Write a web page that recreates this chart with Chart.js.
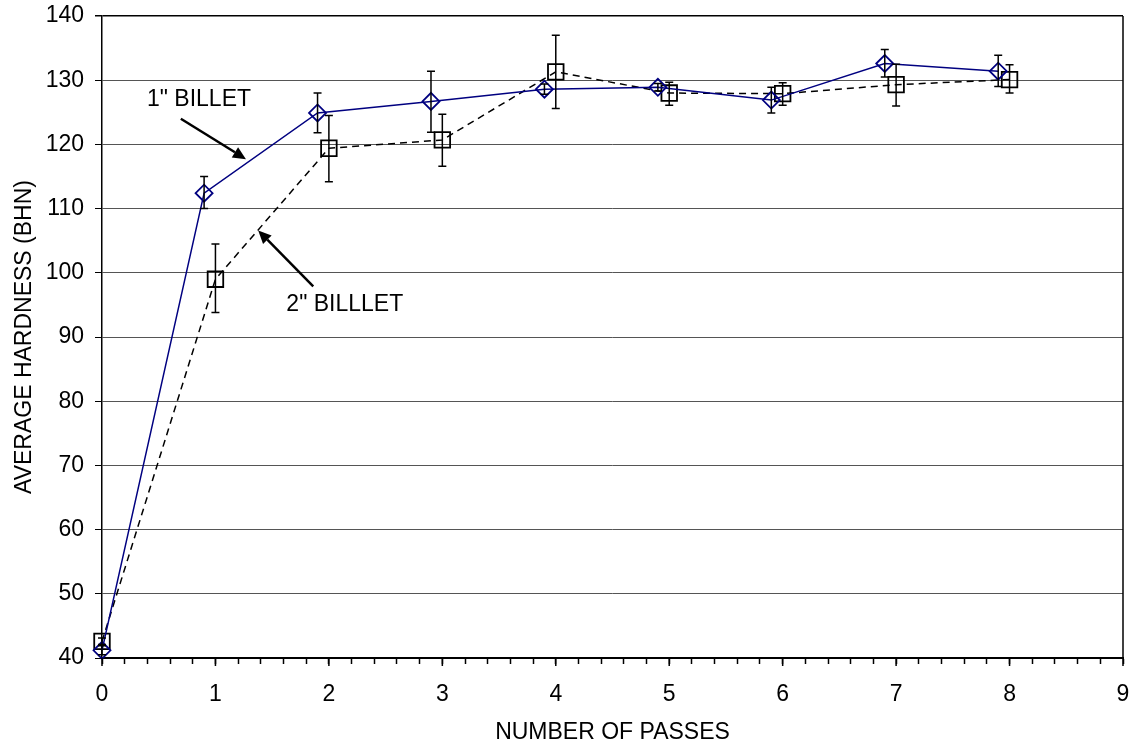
<!DOCTYPE html>
<html>
<head>
<meta charset="utf-8">
<script src="https://cdn.jsdelivr.net/npm/chart.js@4.4.1/dist/chart.umd.min.js"></script>
<style>
  html, body { margin: 0; padding: 0; background: #fff; }
  #box { width: 1133px; height: 744px; }
</style>
</head>
<body>
<div id="box"><canvas id="chart"></canvas></div>
<script>
// Average hardness vs. number of passes for two billet sizes, with error bars.

// 1" billet (plotted slightly left of the whole pass number)
const passes1 = [0, 0.9, 1.9, 2.9, 3.9, 4.9, 5.9, 6.9, 7.9];
const hard1   = [41.2, 112.4, 124.9, 126.7, 128.6, 128.9, 126.9, 132.6, 131.4];
const hard1Hi = [41.9, 115.0, 128.0, 131.4, 129.4, 129.5, 128.9, 134.8, 133.9];
const hard1Lo = [40.5, 110.0, 121.8, 121.9, 127.8, 128.3, 124.9, 130.5, 129.0];

// 2" billet
const passes2 = [0, 1, 2, 3, 4, 5, 6, 7, 8];
const hard2   = [42.6, 99.0, 119.4, 120.7, 131.3, 128.0, 127.9, 129.3, 130.1];
const hard2Hi = [43.1, 104.5, 124.5, 124.7, 137.0, 129.7, 129.6, 132.5, 132.4];
const hard2Lo = [42.1, 93.8, 114.2, 116.6, 125.6, 126.1, 126.1, 126.0, 128.0];

const xTickLabels = ['0', '1', '2', '3', '4', '5', '6', '7', '8', '9'];
const yTickLabels = ['40', '50', '60', '70', '80', '90', '100', '110', '120', '130', '140'];

// callout labels and their arrows, in data units
const notes = [
  { text: '1" BILLET', x: 0.855, y: 126.9 },
  { text: '2" BILLLET', x: 2.14, y: 95.0 }
];
const arrows = [
  { from: [0.695, 124.0], to: [1.269, 117.7] },
  { from: [1.862, 97.9], to: [1.377, 106.6] }
];

const FONT = { family: '"Liberation Sans", Arial, sans-serif', size: 23 };

const errorBars = {
  id: 'errorBars',
  afterDatasetsDraw(chart) {
    const { ctx, scales: { x, y } } = chart;
    ctx.save();
    ctx.strokeStyle = '#000';
    ctx.lineWidth = 1.5;
    [[passes1, hard1Lo, hard1Hi], [passes2, hard2Lo, hard2Hi]].forEach(([xs, lo, hi]) => {
      xs.forEach((v, i) => {
        const px = x.getPixelForValue(v);
        const top = y.getPixelForValue(hi[i]);
        const bot = y.getPixelForValue(lo[i]);
        ctx.beginPath();
        ctx.moveTo(px, top); ctx.lineTo(px, bot);
        ctx.moveTo(px - 4, top); ctx.lineTo(px + 4, top);
        ctx.moveTo(px - 4, bot); ctx.lineTo(px + 4, bot);
        ctx.stroke();
      });
    });
    ctx.restore();
  }
};

const callouts = {
  id: 'callouts',
  afterDraw(chart) {
    const { ctx, chartArea: a, scales: { x, y } } = chart;
    ctx.save();
    // right-hand frame line
    ctx.strokeStyle = '#000';
    ctx.lineWidth = 1.5;
    ctx.beginPath();
    ctx.moveTo(a.right, a.top); ctx.lineTo(a.right, a.bottom);
    ctx.stroke();

    // longer marks at the whole-number passes
    ctx.beginPath();
    xTickLabels.forEach((_, k) => {
      const px = x.getPixelForValue(k);
      ctx.moveTo(px, a.bottom); ctx.lineTo(px, a.bottom + 8);
    });
    ctx.stroke();

    ctx.fillStyle = '#000';
    ctx.font = FONT.size + 'px ' + FONT.family;
    ctx.textAlign = 'center';
    ctx.textBaseline = 'middle';
    notes.forEach(n => ctx.fillText(n.text, x.getPixelForValue(n.x), y.getPixelForValue(n.y)));

    ctx.lineWidth = 2.5;
    arrows.forEach(ar => {
      const x0 = x.getPixelForValue(ar.from[0]), y0 = y.getPixelForValue(ar.from[1]);
      const x1 = x.getPixelForValue(ar.to[0]), y1 = y.getPixelForValue(ar.to[1]);
      const ang = Math.atan2(y1 - y0, x1 - x0);
      const head = 13, half = 6;
      const bx = x1 - head * Math.cos(ang), by = y1 - head * Math.sin(ang);
      ctx.beginPath();
      ctx.moveTo(x0, y0); ctx.lineTo(bx, by);
      ctx.stroke();
      ctx.beginPath();
      ctx.moveTo(x1, y1);
      ctx.lineTo(bx + half * Math.sin(ang), by - half * Math.cos(ang));
      ctx.lineTo(bx - half * Math.sin(ang), by + half * Math.cos(ang));
      ctx.closePath();
      ctx.fill();
    });
    ctx.restore();
  }
};

new Chart(document.getElementById('chart'), {
  type: 'line',
  data: {
    datasets: [
      {
        label: '1" BILLET',
        data: passes1.map((p, i) => ({ x: p, y: hard1[i] })),
        borderColor: '#000080',
        backgroundColor: 'rgba(0,0,0,0)',
        borderWidth: 1.5,
        pointStyle: 'rectRot',
        pointRadius: 8.5,
        pointBorderWidth: 1.8,
        pointBorderColor: '#000080',
        pointBackgroundColor: 'rgba(0,0,0,0)',
        tension: 0,
        clip: false
      },
      {
        label: '2" BILLET',
        data: passes2.map((p, i) => ({ x: p, y: hard2[i] })),
        borderColor: '#000',
        backgroundColor: 'rgba(0,0,0,0)',
        borderWidth: 1.5,
        borderDash: [7, 5],
        pointStyle: 'rect',
        pointRadius: 11,
        pointBorderWidth: 1.8,
        pointBorderColor: '#000',
        pointBackgroundColor: 'rgba(0,0,0,0)',
        tension: 0,
        clip: false
      }
    ]
  },
  options: {
    responsive: true,
    maintainAspectRatio: false,
    animation: false,
    layout: { autoPadding: false, padding: { top: 16, right: 10, bottom: 0, left: 0 } },
    plugins: { legend: { display: false }, tooltip: { enabled: false } },
    scales: {
      x: {
        type: 'linear',
        min: 0, max: 9,
        afterFit(s) { s.height = 86; s.paddingLeft = 0; s.paddingRight = 0; },
        afterBuildTicks(s) {
          const t = [];
          for (let k = 0; k <= 45; k++) t.push({ value: k / 5 });
          s.ticks = t;
        },
        ticks: {
          autoSkip: false, maxRotation: 0, color: '#000', font: FONT, padding: 17,
          callback: v => (Math.abs(v - Math.round(v)) < 1e-6 ? xTickLabels[Math.round(v)] : '')
        },
        grid: { drawOnChartArea: false, tickLength: 6, tickColor: '#000', tickWidth: 1.5 },
        border: { color: '#000', width: 2 },
        title: {
          display: true, text: 'NUMBER OF PASSES', color: '#000',
          font: { family: FONT.family, size: FONT.size, lineHeight: 1.0 }, padding: { top: 0, bottom: 0 }
        }
      },
      y: {
        min: 40, max: 140,
        afterFit(s) { s.width = 102; s.paddingTop = 0; s.paddingBottom = 0; },
        ticks: {
          stepSize: 10, color: '#000', font: FONT, padding: 11,
          callback: v => yTickLabels[Math.round((v - 40) / 10)]
        },
        grid: {
          color: c => (c.tick && c.tick.value === 140 ? '#000' : '#555'),
          lineWidth: c => (c.tick && c.tick.value === 140 ? 1.5 : 1),
          tickLength: 7, tickColor: '#000'
        },
        border: { color: '#000', width: 1.5 },
        title: { display: true, text: 'AVERAGE HARDNESS (BHN)', color: '#000', font: FONT, padding: { top: 11, bottom: 11 } }
      }
    }
  },
  plugins: [errorBars, callouts]
});
</script>
</body>
</html>
